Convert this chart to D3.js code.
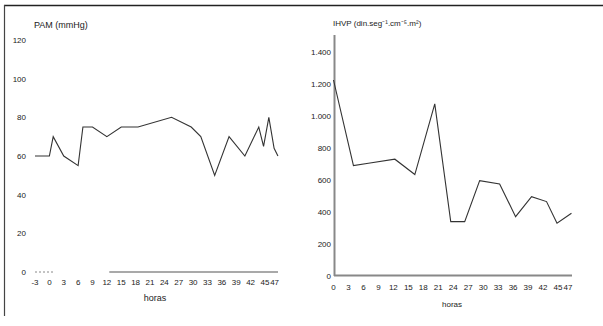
<!DOCTYPE html>
<html><head><meta charset="utf-8">
<script src="https://cdn.jsdelivr.net/npm/d3@7"></script>
<style>body{margin:0;background:#fff}svg{display:block}text{font-family:"Liberation Sans",Arial,sans-serif;fill:#222}</style>
</head><body>
<script>
// PAM (mmHg) series
const pamHours = [-3, 0, 0.8, 3, 6, 7, 9, 12, 15, 18.5, 25.5, 29.6, 31.6, 34.5, 37.5, 40.8, 43.7, 44.7, 45.8, 46.9, 47.7];
const pamValues = [60, 60, 70, 60, 55, 75, 75, 70, 75, 75, 80, 75, 70, 50, 70, 60, 75, 65, 80, 64, 60];
const pamYTicks = [0, 20, 40, 60, 80, 100, 120];
const pamXTicks = [-3, 0, 3, 6, 9, 12, 15, 18, 21, 24, 27, 30, 33, 36, 39, 42, 45, 47];
// IHVP series
const ihvpHours = [0, 4, 7, 12.3, 16.3, 20.3, 23.5, 26.3, 29.3, 33.3, 36.5, 39.7, 42.7, 44.8, 47.7];
const ihvpValues = [1225, 690, 705, 730, 634, 1076, 340, 340, 596, 575, 371, 496, 465, 330, 392];
const ihvpYTicks = [0, 200, 400, 600, 800, 1000, 1200, 1400];
const ihvpYLabels = ["0", "200", "400", "600", "800", "1.000", "1.200", "1.400"];
const ihvpXTicks = [0, 3, 6, 9, 12, 15, 18, 21, 24, 27, 30, 33, 36, 39, 42, 45, 47];

const svg = d3.select("body").append("svg").attr("width", 603).attr("height", 326);
// frame
svg.append("line").attr("x1", 4).attr("x2", 603).attr("y1", 5.5).attr("y2", 5.5).attr("stroke", "#222").attr("stroke-width", 1.5);
svg.append("line").attr("x1", 4.5).attr("x2", 4.5).attr("y1", 5).attr("y2", 316).attr("stroke", "#444").attr("stroke-width", 1.2);

// ---- Left chart
const xL = d3.scaleLinear().domain([-3, 45]).range([35, 265]);
const yL = d3.scaleLinear().domain([0, 120]).range([272, 40]);
const gL = svg.append("g");
gL.append("text").attr("x", 34).attr("y", 28).attr("font-size", 9).text("PAM (mmHg)");
pamYTicks.forEach(v => gL.append("text").attr("x", 26).attr("y", yL(v) + 3).attr("text-anchor", "end").attr("font-size", 8).text(v));
pamXTicks.forEach(v => gL.append("text").attr("x", xL(v)).attr("y", 285).attr("text-anchor", "middle").attr("font-size", 8).text(v));
gL.append("line").attr("x1", xL(12.5)).attr("x2", 278).attr("y1", yL(0)).attr("y2", yL(0)).attr("stroke", "#555").attr("stroke-width", 1.2);
gL.append("line").attr("x1", 35).attr("x2", 54).attr("y1", yL(0)).attr("y2", yL(0)).attr("stroke", "#888").attr("stroke-width", 1).attr("stroke-dasharray", "2,2");
gL.append("text").attr("x", 155).attr("y", 301).attr("text-anchor", "middle").attr("font-size", 9).text("horas");
const lineL = d3.line().x((d, i) => xL(pamHours[i])).y(d => yL(d));
gL.append("path").datum(pamValues).attr("d", lineL).attr("fill", "none").attr("stroke", "#333").attr("stroke-width", 1.1);

// ---- Right chart
const xR = d3.scaleLinear().domain([0, 45]).range([333.5, 558]);
const yR = d3.scaleLinear().domain([0, 1400]).range([276, 52]);
const gR = svg.append("g");
gR.append("text").attr("x", 333).attr("y", 26).attr("font-size", 8).text("IHVP (din.seg\u207B\u00B9.cm\u207B\u2075.m\u00B2)");
ihvpYTicks.forEach((v, i) => gR.append("text").attr("x", 331).attr("y", yR(v) + 3).attr("text-anchor", "end").attr("font-size", 8).text(ihvpYLabels[i]));
ihvpXTicks.forEach(v => gR.append("text").attr("x", xR(v)).attr("y", 290).attr("text-anchor", "middle").attr("font-size", 8).text(v));
gR.append("line").attr("x1", 334.5).attr("x2", 334.5).attr("y1", 35).attr("y2", yR(0)).attr("stroke", "#888").attr("stroke-width", 2);
gR.append("line").attr("x1", 334).attr("x2", 572).attr("y1", yR(0) - 0.5).attr("y2", yR(0) - 0.5).attr("stroke", "#888").attr("stroke-width", 2);
gR.append("text").attr("x", 452).attr("y", 307).attr("text-anchor", "middle").attr("font-size", 8).text("horas");
const lineR = d3.line().x((d, i) => xR(ihvpHours[i])).y(d => yR(d));
gR.append("path").datum(ihvpValues).attr("d", lineR).attr("fill", "none").attr("stroke", "#333").attr("stroke-width", 1.1);
</script>
</body></html>
